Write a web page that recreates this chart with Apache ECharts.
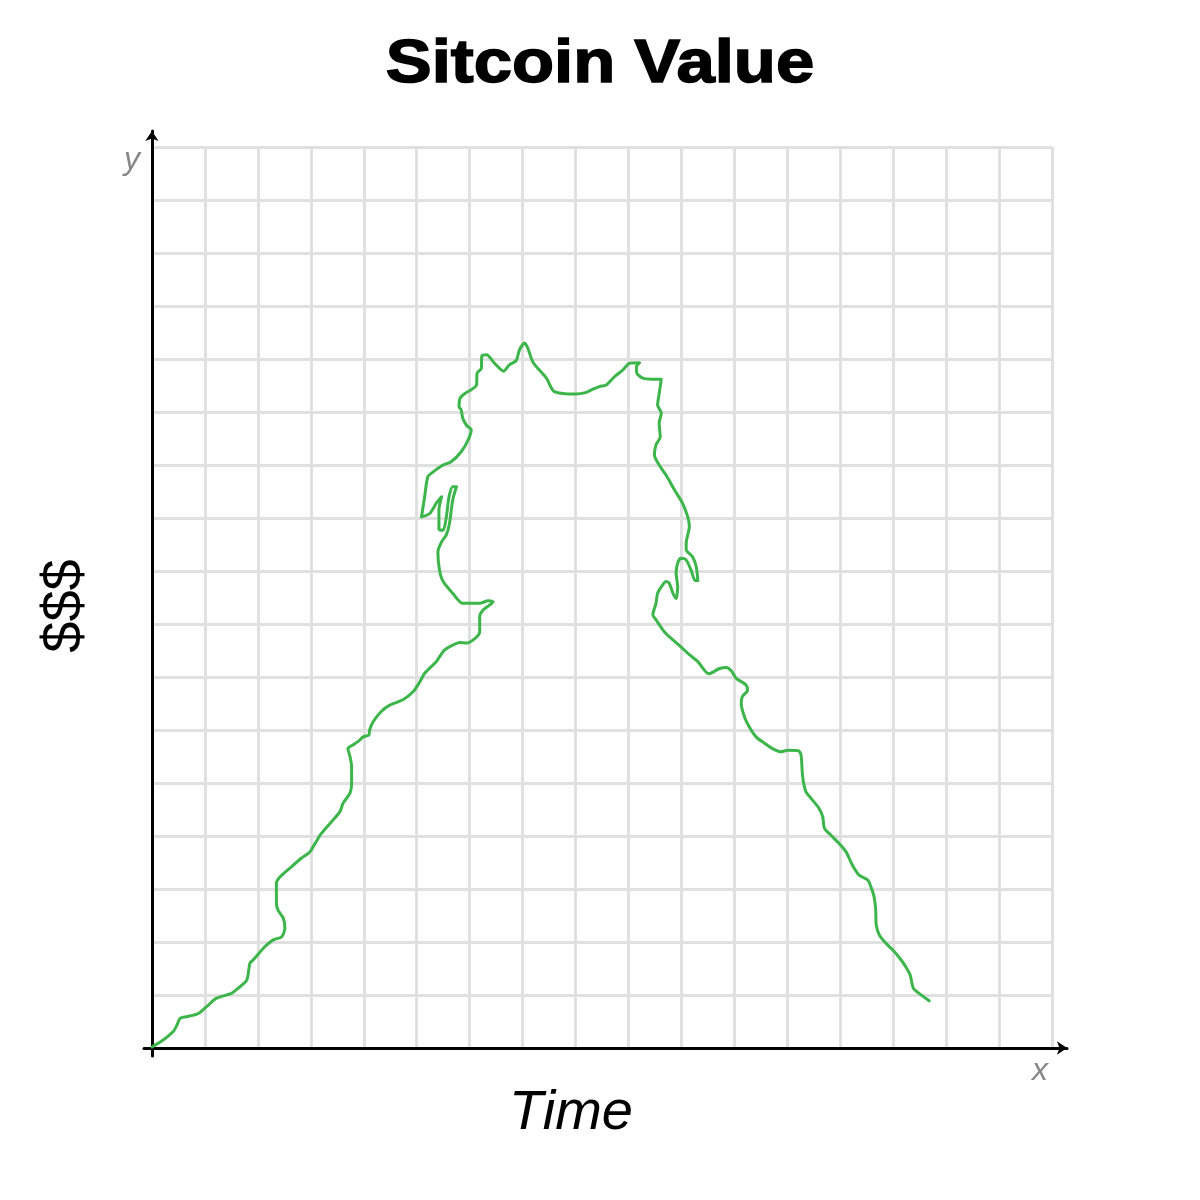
<!DOCTYPE html>
<html>
<head>
<meta charset="utf-8">
<script src="https://cdn.jsdelivr.net/npm/echarts@6/dist/echarts.min.js"></script>
<style>html,body{margin:0;padding:0;background:#fff;}#chart{width:1200px;height:1200px;}</style>
</head>
<body>
<div id="chart"></div>
<script>
// Chart texts
const titleText = 'Sitcoin Value';
const xAxisTitle = 'Time';
const yAxisTitle = '$$$';
const xAxisLetter = 'x';
const yAxisLetter = 'y';
const gridCount = 17; // grid cells per axis

// Price path, in grid units [time, value]
const leftSlope = [
  [0.00,0.02],[0.21,0.15],[0.40,0.31],[0.47,0.43],[0.53,0.56],[0.65,0.59],[0.87,0.65],[1.03,0.78],
  [1.22,0.94],[1.50,1.03],[1.63,1.13],[1.79,1.28],[1.85,1.60],[1.91,1.66],[2.13,1.91],[2.29,2.04],
  [2.45,2.10],[2.51,2.26],[2.48,2.45],[2.38,2.60],[2.35,2.73],[2.35,3.11],[2.42,3.23],[2.60,3.39],
  [2.82,3.58],[2.98,3.70],[3.08,3.86],[3.20,4.05],[3.39,4.27],[3.55,4.46],[3.61,4.62],[3.74,4.81],
  [3.77,4.99],[3.77,5.31],[3.74,5.50],[3.70,5.65],[3.80,5.72],[3.89,5.78],[3.99,5.87],[4.10,5.91],
  [4.11,6.00],[4.18,6.16],[4.33,6.35],[4.49,6.47],[4.74,6.57],[4.93,6.72],[5.06,6.91],[5.15,7.07],
  [5.37,7.29],[5.43,7.38],[5.53,7.51]
];
const leftHead = [
  [5.68,7.60],[5.81,7.65],[5.94,7.64],[6.19,7.85],[6.19,8.14],[6.25,8.26],[6.44,8.42],[6.35,8.44],
  [6.19,8.39],[5.87,8.39],[5.68,8.58],[5.50,8.80],[5.43,9.02],[5.40,9.36],[5.47,9.55],[5.56,9.68],
  [5.62,9.90],[5.68,10.34],[5.75,10.59],[5.68,10.59],[5.61,10.40],[5.56,10.02],[5.50,9.77],[5.42,9.79],
  [5.42,10.15],[5.47,10.40],[5.37,10.28],[5.25,10.09],[5.09,10.02],[5.15,10.40],[5.21,10.78],[5.31,10.87],
  [5.50,11.00],[5.65,11.06],[5.84,11.25],[5.97,11.47],[6.03,11.66],[5.94,11.75],[5.87,11.88],[5.84,12.04],
  [5.80,12.10],[5.82,12.26],[5.91,12.35],[6.03,12.42],[6.13,12.51],[6.14,12.73],[6.22,12.82],[6.23,13.06]
];
const topHead = [
  [6.32,13.08],[6.47,12.92],[6.64,12.77],[6.75,12.89],[6.88,12.97],[6.94,13.17],[7.04,13.30],[7.10,13.20],
  [7.19,12.95],[7.29,12.82],[7.45,12.64],[7.58,12.40],[7.76,12.35],[8.01,12.34],[8.17,12.36],[8.33,12.43],
  [8.45,12.48],[8.58,12.51],[8.74,12.67],[8.89,12.79],[9.02,12.92],[9.21,12.93],[9.15,12.85],[9.16,12.73],
  [9.27,12.64],[9.46,12.62],[9.62,12.62]
];
const rightHead = [
  [9.58,12.35],[9.55,12.13],[9.62,11.98],[9.58,11.79],[9.60,11.53],[9.52,11.38],[9.49,11.19],[9.58,11.00],
  [9.71,10.81],[9.87,10.53],[10.02,10.28],[10.12,10.02],[10.15,9.84],[10.09,9.52],[10.09,9.40],[10.21,9.27],
  [10.28,9.08],[10.31,8.82],[10.26,8.82],[10.18,9.02],[10.09,9.21],[9.99,9.24],[9.93,9.15],[9.90,8.96],
  [9.93,8.70],[9.90,8.48],[9.84,8.58],[9.77,8.77],[9.71,8.80],[9.62,8.70],[9.55,8.58],[9.52,8.39],
  [9.46,8.17],[9.52,8.08]
];
const rightSlope = [
  [9.68,7.85],[9.84,7.70],[9.99,7.57],[10.15,7.42],[10.31,7.29],[10.52,7.06],[10.72,7.16],[10.85,7.18],
  [10.94,7.12],[11.03,6.98],[11.22,6.85],[11.25,6.75],[11.15,6.63],[11.13,6.50],[11.19,6.25],[11.28,6.06],
  [11.41,5.87],[11.57,5.75],[11.72,5.65],[11.88,5.59],[12.01,5.62],[12.21,5.61],[12.26,5.53],[12.29,5.12],
  [12.35,4.84],[12.45,4.71],[12.60,4.52],[12.67,4.36],[12.70,4.15],[12.82,4.02],[12.98,3.86],[13.11,3.70],
  [13.23,3.45],[13.36,3.26],[13.52,3.17],[13.58,3.04],[13.64,2.85],[13.67,2.60],[13.68,2.32],[13.74,2.13],
  [13.86,1.98],[14.02,1.82],[14.15,1.66],[14.24,1.53],[14.32,1.38],[14.38,1.13],[14.49,1.03],[14.68,0.89]
];

const pricePath = [].concat(leftSlope, leftHead, topHead, rightHead, rightSlope);

const chart = echarts.init(document.getElementById('chart'), null, {renderer: 'canvas'});
const gridColor = '#e0e0e0';
const hiddenAxisBits = {axisLabel: {show: false}, axisTick: {show: false}, splitLine: {show: false}};

chart.setOption({
  animation: false,
  backgroundColor: '#fff',
  grid: [
    {left: 152, right: 148, top: 147, bottom: 152},
    {left: 144, right: 133, top: 131, bottom: 144}
  ],
  xAxis: [
    {type: 'value', gridIndex: 0, min: 0, max: gridCount, interval: 1,
      axisLine: {show: false}, axisTick: {show: false}, axisLabel: {show: false},
      splitLine: {show: true, lineStyle: {color: gridColor, width: 3}}},
    Object.assign({type: 'value', gridIndex: 1, min: -0.151, max: 17.40,
      axisLine: {show: true, onZero: true, symbol: ['none', 'arrow'], symbolSize: [10, 10],
        lineStyle: {color: '#000', width: 3}}}, hiddenAxisBits)
  ],
  yAxis: [
    {type: 'value', gridIndex: 0, min: 0, max: gridCount, interval: 1,
      axisLine: {show: false}, axisTick: {show: false}, axisLabel: {show: false},
      splitLine: {show: true, lineStyle: {color: gridColor, width: 3}}},
    Object.assign({type: 'value', gridIndex: 1, min: -0.151, max: 17.30,
      axisLine: {show: true, onZero: true, symbol: ['none', 'arrow'], symbolSize: [10, 10],
        lineStyle: {color: '#000', width: 3}}}, hiddenAxisBits)
  ],
  series: [{
    type: 'line',
    xAxisIndex: 0, yAxisIndex: 0,
    data: pricePath,
    showSymbol: false,
    smooth: 0.25,
    lineStyle: {color: '#3cb54a', width: 3, cap: 'round', join: 'round'}
  }],
  graphic: [
    {type: 'text', x: 600, y: 65, scaleX: 1.11, scaleY: 1,
      style: {text: titleText, font: 'bold 62px "Liberation Sans", Arial, sans-serif', fill: '#000',
        stroke: '#000', lineWidth: 1.5, align: 'center', verticalAlign: 'middle'}},
    {type: 'text', left: 509, top: 1085, style: {text: xAxisTitle, font: 'italic 56px "Liberation Sans", Arial, sans-serif', fill: '#000'}},
    {type: 'text', x: 66, y: 606, rotation: Math.PI / 2, style: {text: yAxisTitle, font: '56px "Liberation Sans", Arial, sans-serif', fill: '#000', align: 'center', verticalAlign: 'middle'}},
    {type: 'text', x: 1040, y: 1071, style: {text: xAxisLetter, font: 'italic 32px "Liberation Sans", Arial, sans-serif', fill: '#888', align: 'center', verticalAlign: 'middle'}},
    {type: 'text', x: 132, y: 160, style: {text: yAxisLetter, font: 'italic 32px "Liberation Sans", Arial, sans-serif', fill: '#888', align: 'center', verticalAlign: 'middle'}}
  ]
});
</script>
</body>
</html>
